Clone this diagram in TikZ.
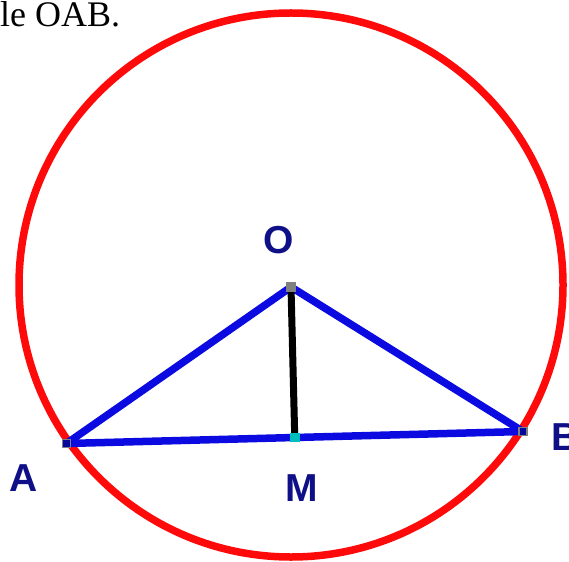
\documentclass[tikz,border=0pt]{standalone}
\usepackage{fontspec}
\setmainfont{Liberation Serif}
\setsansfont{Liberation Sans}
\usetikzlibrary{calc}
\definecolor{circred}{RGB}{255,10,10}
\definecolor{segblue}{RGB}{10,10,225}
\definecolor{labnavy}{RGB}{15,15,135}
\definecolor{midcyan}{RGB}{0,190,190}

\begin{document}
\begin{tikzpicture}[x=1pt,y=-1pt,
  ptmark/.style={draw=gray, fill=gray, line width=1.5pt, rectangle,
               minimum size=8pt, inner sep=0pt},
  ptlabel/.style={text=labnavy, font=\sffamily\bfseries\fontsize{39}{39}\selectfont,
               inner sep=0pt},
  seg/.style={segblue, line width=7.5pt},
  line cap=round
]
\useasboundingbox (0,0) rectangle (569,561);
% top text
\node[anchor=base west, inner sep=0pt, font=\fontsize{36}{40}\selectfont] (caption) at (0,26.5) {le OAB.};
% circle
\node[draw=circred, line width=7.5pt, circle, minimum size=544pt, inner sep=0pt] (circ) at (291,285) {};
% points
\coordinate (O) at (291,287);
\coordinate (A) at (66.5,443.5);
\coordinate (B) at (523,431.5);
\coordinate (M) at ($(A)!0.5!(B)$);
\draw[seg] (O) -- (A);
\draw[seg] (O) -- (B);
\draw[seg] (A) -- (B);
\draw[black, line width=7pt] (O) -- (M);
\node[ptmark] (ptO) at (O) {};
\node[ptmark, fill=segblue!70!black] (ptA) at (A) {};
\node[ptmark, fill=segblue!70!black] (ptB) at (B) {};
\node[ptmark, draw=midcyan, fill=midcyan] (ptM) at (M) {};
% labels
\node[ptlabel] (labO) at (279,240) {O};
\node[ptlabel] (labA) at (24,478) {A};
\node[ptlabel] (labM) at (302,488) {M};
\node[ptlabel, anchor=west] (labB) at (551,437.5) {B};
\end{tikzpicture}
\end{document}
